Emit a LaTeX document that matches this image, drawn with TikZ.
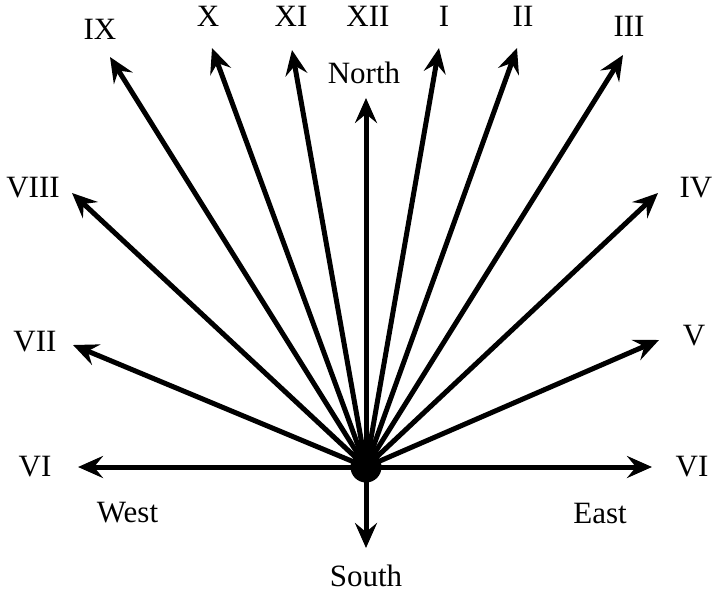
\documentclass[tikz,border=0pt]{standalone}
\usepackage{fontspec}
\setmainfont{Liberation Serif}
\usetikzlibrary{arrows.meta}
\tikzset{
  ray/.style={line width=5pt, -{Stealth[length=25pt,width=22pt,inset=9pt]}},
  lbl/.style={inner sep=0pt, font=\fontsize{31}{32}\selectfont},
}
\begin{document}
\begin{tikzpicture}[x=1pt,y=-1pt]
\useasboundingbox (0,0) rectangle (712,595);
% centre
\coordinate (c) at (366,467);
% arrow tips
\coordinate (tS) at (366,548);
\coordinate (tW) at (78,467);
\coordinate (tE) at (652,467);
\coordinate (tVII) at (73,345);
\coordinate (tVIII) at (72,193);
\coordinate (tIX) at (110,57);
\coordinate (tX) at (212,48);
\coordinate (tXI) at (292,50);
\coordinate (tN) at (366,98);
\coordinate (tI) at (439,48);
\coordinate (tII) at (517,48);
\coordinate (tIII) at (623,55);
\coordinate (tIV) at (658,193);
\coordinate (tV) at (659,340);
% labels
\node[lbl] (lIX) at (100,29) {IX};
\node[lbl] (lX) at (208,16) {X};
\node[lbl] (lXI) at (291,16) {XI};
\node[lbl] (lXII) at (368,16) {XII};
\node[lbl] (lI) at (444,16) {I};
\node[lbl] (lII) at (523,16) {II};
\node[lbl] (lIII) at (629,26) {III};
\node[lbl] (lVIII) at (33,188) {VIII};
\node[lbl] (lIV) at (696,188) {IV};
\node[lbl] (lVII) at (35,342) {VII};
\node[lbl] (lV) at (694,336) {V};
\node[lbl] (lVIw) at (35,467) {VI};
\node[lbl] (lVIe) at (692,467) {VI};
\node[lbl] (north) at (364,72.5) {North};
\node[lbl] (south) at (366,576) {South};
\node[lbl] (west) at (127.5,513) {West};
\node[lbl] (east) at (600,513) {East};
% rays
\foreach \t in {tS,tW,tE,tVII,tVIII,tIX,tX,tXI,tN,tI,tII,tIII,tIV,tV}
  \draw[ray] (c) -- (\t);
\fill (c) circle (15.5);
\end{tikzpicture}
\end{document}
